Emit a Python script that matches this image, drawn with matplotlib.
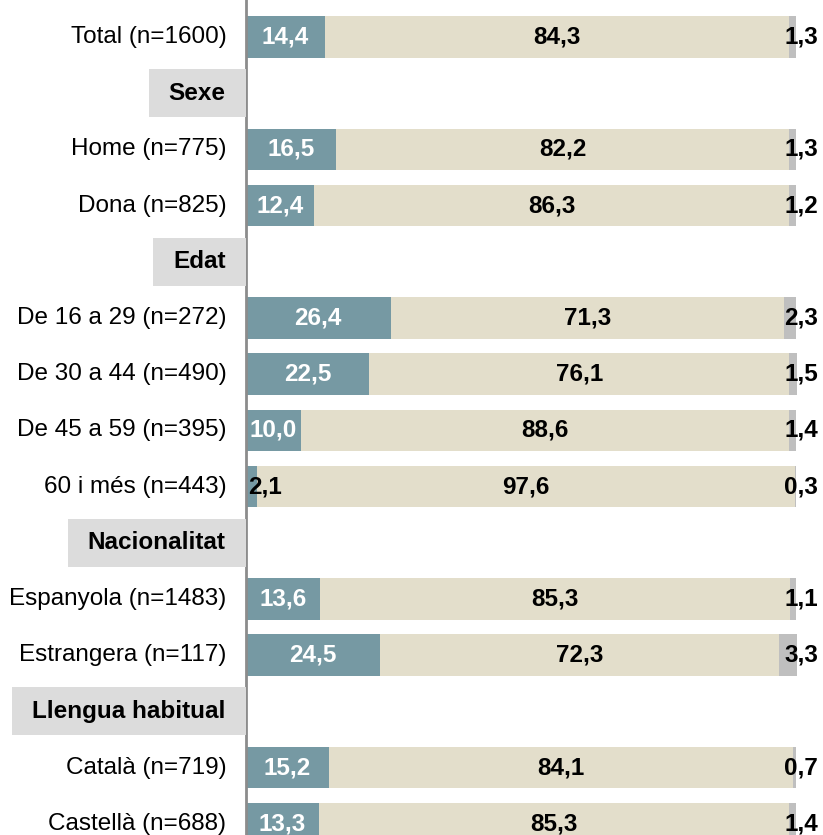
import matplotlib
matplotlib.use("Agg")
import matplotlib.pyplot as plt
from matplotlib.patches import Rectangle

plt.rcParams['font.family'] = ['Liberation Sans', 'DejaVu Sans']

# --- dades ---
row_labels = ["Total (n=1600)",
              "Home (n=775)", "Dona (n=825)",
              "De 16 a 29 (n=272)", "De 30 a 44 (n=490)", "De 45 a 59 (n=395)", "60 i més (n=443)",
              "Espanyola (n=1483)", "Estrangera (n=117)",
              "Català (n=719)", "Castellà (n=688)"]
header_labels = ["Sexe", "Edat", "Nacionalitat", "Llengua habitual"]
group_sizes = [1, 2, 4, 2, 2]   # el primer grup (Total) no porta capçalera

val_a = [14.4, 16.5, 12.4, 26.4, 22.5, 10.0, 2.1, 13.6, 24.5, 15.2, 13.3]
val_b = [84.3, 82.2, 86.3, 71.3, 76.1, 88.6, 97.6, 85.3, 72.3, 84.1, 85.3]
val_c = [1.3, 1.3, 1.2, 2.3, 1.5, 1.4, 0.3, 1.1, 3.3, 0.7, 1.4]

# --- colors ---
C_A = '#7699a3'
C_B = '#e3decb'
C_C = '#bfbfbf'
C_HEAD = '#dcdcdc'
C_AXIS = '#8c8c8c'

W, H, DPI = 823, 835, 100
AX_X = 245.5          # posició de l'eix en píxels
PX_PCT = 5.51         # píxels per punt percentual
SLOT0, SLOT = 37.0, 56.2

fig = plt.figure(figsize=(W / DPI, H / DPI), dpi=DPI)
ax = fig.add_axes([AX_X / W, 0, 1 - AX_X / W, 1])
ax.set_xlim(0, (W - AX_X) / PX_PCT)
ax.set_ylim((H - SLOT0) / SLOT, -SLOT0 / SLOT)
ax.set_xticks([])
ax.set_yticks([])
for s in ['top', 'right', 'bottom']:
    ax.spines[s].set_visible(False)
ax.spines['left'].set_color(C_AXIS)
ax.spines['left'].set_linewidth(2)

# posicions (slots) de files i capçaleres
row_y, head_y = [], []
slot = 0
for gi, n in enumerate(group_sizes):
    if gi > 0:
        head_y.append(slot)
        slot += 1
    for _ in range(n):
        row_y.append(slot)
        slot += 1

fmt = lambda v: f"{v:.1f}".replace('.', ',')
FS = 17.5
bh = 0.74
x_right = (818 - AX_X) / PX_PCT   # etiquetes de la tercera sèrie alineades a la dreta

ax.barh(row_y, val_a, height=bh, color=C_A, zorder=2)
left_b = val_a
ax.barh(row_y, val_b, left=left_b, height=bh, color=C_B, zorder=2)
left_c = [a + b for a, b in zip(val_a, val_b)]
ax.barh(row_y, val_c, left=left_c, height=bh, color=C_C, zorder=2)

for y, lab, a, b, c in zip(row_y, row_labels, val_a, val_b, val_c):
    ax.annotate(lab, xy=(0, y), xytext=(-19, 0), textcoords='offset pixels',
                ha='right', va='center', fontsize=FS, annotation_clip=False)
    if a < 5:
        ax.text(0.45, y, fmt(a), ha='left', va='center', fontsize=FS,
                fontweight='bold', color='black', zorder=3)
    else:
        ax.text(a / 2, y, fmt(a), ha='center', va='center', fontsize=FS,
                fontweight='bold', color='white', zorder=3)
    ax.text(a + b / 2, y, fmt(b), ha='center', va='center', fontsize=FS,
            fontweight='bold', color='black', zorder=3)
    ax.text(x_right, y, fmt(c), ha='right', va='center', fontsize=FS,
            fontweight='bold', color='black', zorder=3)

# capçaleres amb caixa grisa
head_txt = []
for y, lab in zip(head_y, header_labels):
    t = ax.annotate(lab, xy=(0, y), xytext=(-20, 0), textcoords='offset pixels',
                    ha='right', va='center', fontsize=FS, fontweight='bold',
                    annotation_clip=False, zorder=5)
    head_txt.append((t, y))

fig.canvas.draw()
r = fig.canvas.get_renderer()
inv = ax.transData.inverted()
for t, y in head_txt:
    bb = t.get_window_extent(r)
    x0 = inv.transform((bb.x0 - 20, 0))[0]
    yy = ax.transData.transform((0, y))[1]
    y_top = inv.transform((0, yy + 24))[1]
    y_bot = inv.transform((0, yy - 24))[1]
    ax.add_patch(Rectangle((x0, y_bot), -x0, y_top - y_bot, facecolor=C_HEAD,
                           edgecolor='none', clip_on=False, zorder=4))

fig.savefig("out.png", dpi=DPI)
